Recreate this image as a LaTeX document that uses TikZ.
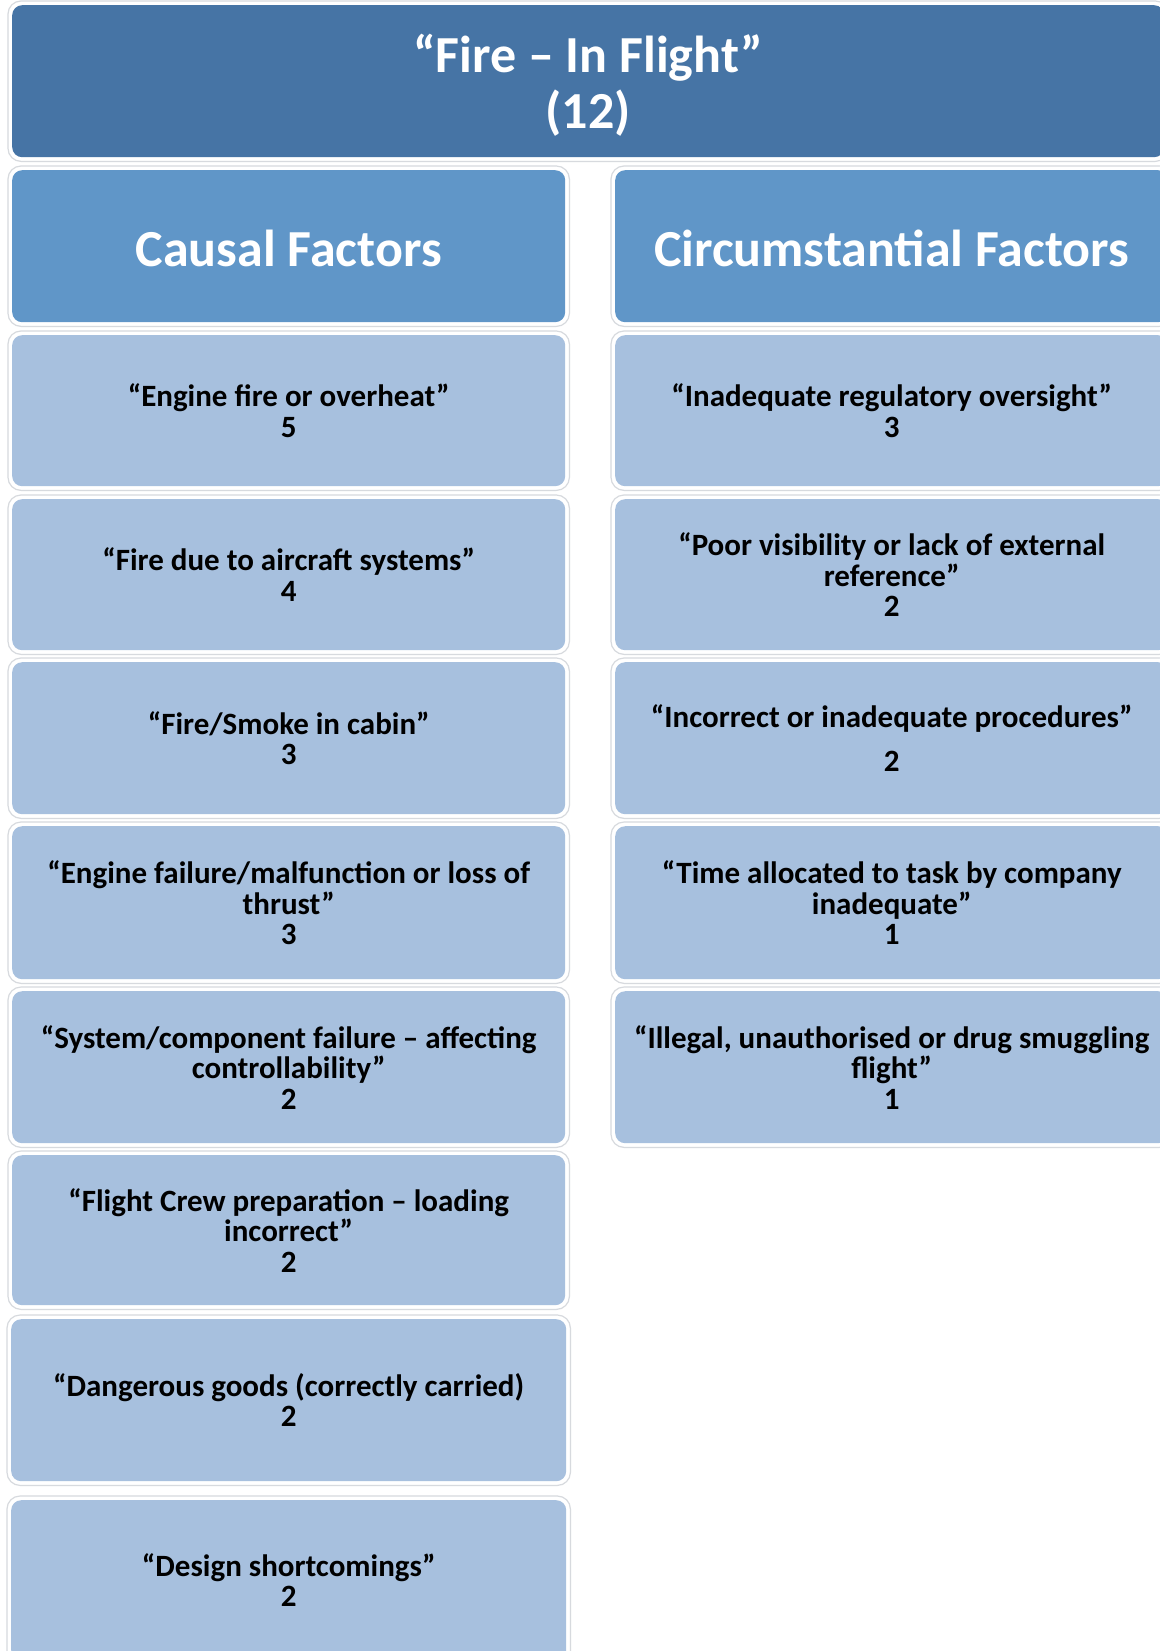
\documentclass[tikz,border=0pt]{standalone}
\usepackage{fontspec}
\setmainfont{Carlito}
\definecolor{titleblue}{RGB}{70,116,165}
\definecolor{headblue}{RGB}{96,150,200}
\definecolor{cellblue}{RGB}{167,192,222}
\definecolor{halogray}{RGB}{215,218,222}
\tikzset{
  base/.style={rectangle, rounded corners=10pt, inner sep=0pt, anchor=north west, align=center},
  titlebox/.style={base, fill=titleblue},
  titletext/.style={inner sep=0pt, align=center, text=white, font=\fontsize{52}{56}\selectfont\bfseries},
  headbox/.style={base, fill=headblue},
  headtext/.style={inner sep=0pt, align=center, text=white, font=\fontsize{52}{60}\selectfont\bfseries},
  cellbox/.style={base, fill=cellblue, text=black, font=\fontsize{31}{30.5}\selectfont\bfseries},
  halo/.style={draw=halogray, line width=1.2pt, rounded corners=13pt}
}
\begin{document}
\begin{tikzpicture}[x=1pt,y=-1pt]
\useasboundingbox (0,0) rectangle (1159,1651);
\fill[white] (0,0) rectangle (1159,1651);
% title
\node[titlebox, minimum width=1152pt, minimum height=152pt] (title) at (12,5) {};
\node[titletext] (titletxt) at ([yshift=-4pt]title.center) {“Fire – In Flight”\\(12)};
% headers
\node[headbox, minimum width=553pt, minimum height=152pt] (hcausal) at (12,170) {};
\node[headtext] (hcausaltxt) at ([yshift=-2pt]hcausal.center) {Causal Factors};
\node[headbox, minimum width=553pt, minimum height=152pt] (hcirc) at (615,170) {};
\node[headtext] (hcirctxt) at ([yshift=-2pt]hcirc.center) {Circumstantial Factors};
% left column
\node[cellbox, minimum width=553pt, minimum height=151pt] (c1) at (12,335) {“Engine fire or overheat”\\5};
\node[cellbox, minimum width=553pt, minimum height=151pt] (c2) at (12,499) {“Fire due to aircraft systems”\\4};
\node[cellbox, minimum width=553pt, minimum height=152pt] (c3) at (12,662) {“Fire/Smoke in cabin”\\3};
\node[cellbox, minimum width=553pt, minimum height=153pt] (c4) at (12,826) {“Engine failure/malfunction or loss of\\thrust”\\3};
\node[cellbox, minimum width=553pt, minimum height=152pt] (c5) at (12,991) {“System/component failure – affecting\\controllability”\\2};
\node[cellbox, minimum width=553pt, minimum height=150pt] (c6) at (12,1155) {“Flight Crew preparation – loading\\incorrect”\\2};
\node[cellbox, minimum width=555pt, minimum height=162pt] (c7) at (11,1319) {“Dangerous goods (correctly carried)\\2};
\node[cellbox, minimum width=555pt, minimum height=160pt] (c8) at (11,1500) {“Design shortcomings”\\2};
% right column
\node[cellbox, minimum width=553pt, minimum height=151pt] (r1) at (615,335) {“Inadequate regulatory oversight”\\3};
\node[cellbox, minimum width=553pt, minimum height=151pt] (r2) at (615,499) {“Poor visibility or lack of external\\reference”\\2};
\node[cellbox, minimum width=553pt, minimum height=152pt] (r3) at (615,662) {“Incorrect or inadequate procedures”\\[14pt]2};
\node[cellbox, minimum width=553pt, minimum height=153pt] (r4) at (615,826) {“Time allocated to task by company\\inadequate”\\1};
\node[cellbox, minimum width=553pt, minimum height=152pt] (r5) at (615,991) {“Illegal, unauthorised or drug smuggling\\flight”\\1};
% halos
\foreach \n in {title,hcausal,hcirc,c1,c2,c3,c4,c5,c6,c7,c8,r1,r2,r3,r4,r5}
  \draw[halo] ([shift={(-4pt,4pt)}]\n.north west) rectangle ([shift={(4pt,-4pt)}]\n.south east);
\end{tikzpicture}
\end{document}
